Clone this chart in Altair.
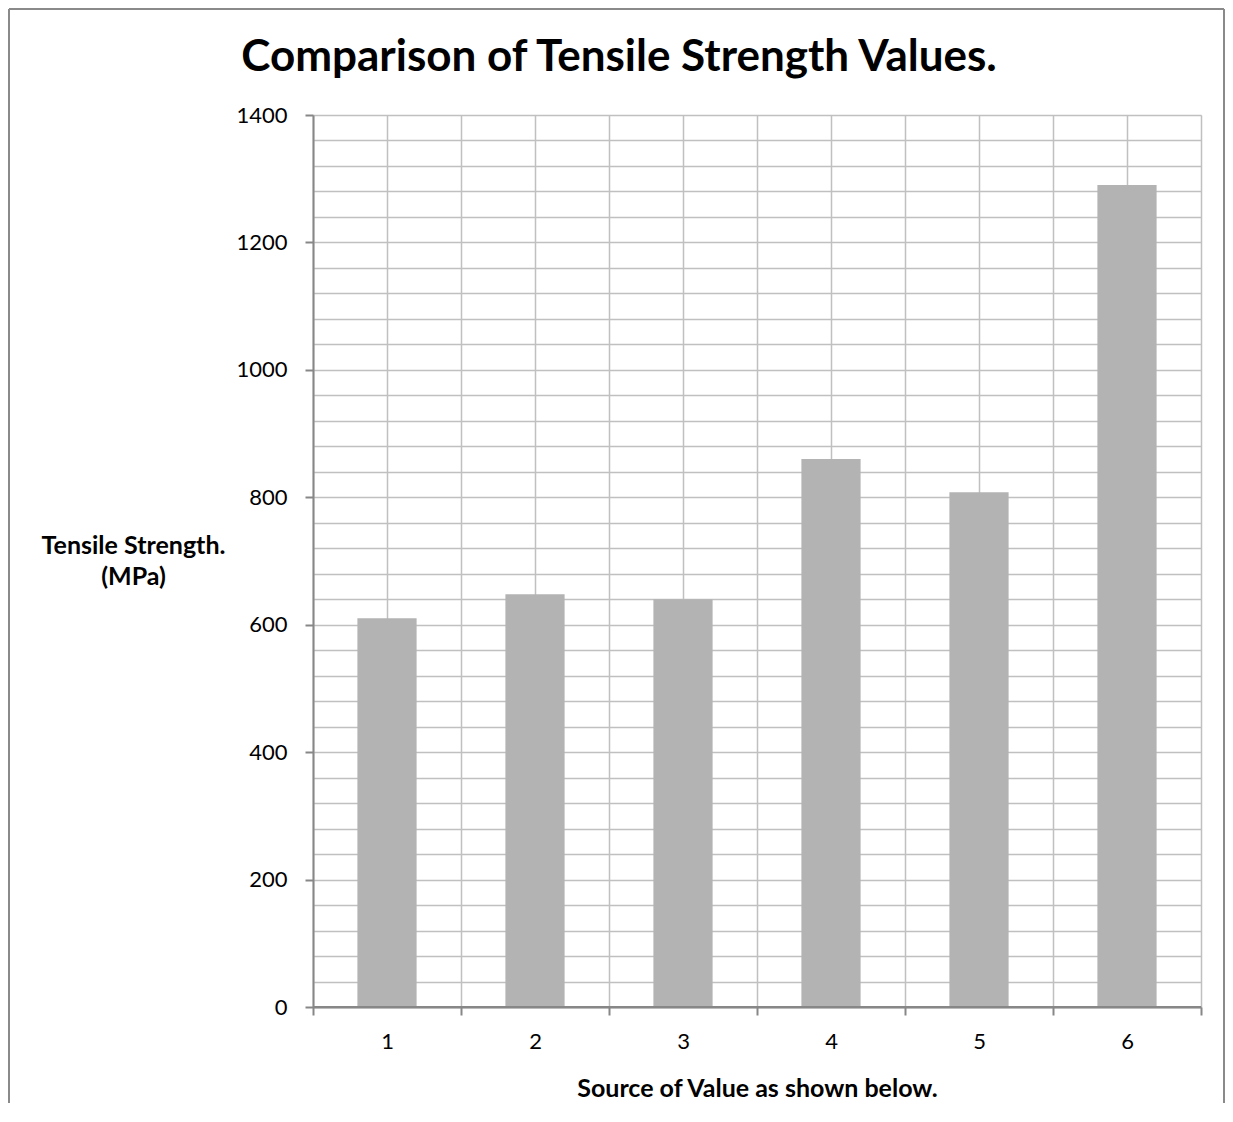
import altair as alt
import pandas as pd

# ---- data ----
sources = [1, 2, 3, 4, 5, 6]
tensile_mpa = [610, 648, 640, 860, 808, 1290]
y_grid_values = list(range(0, 1401, 40))
x_grid_values = [0.5, 1, 1.5, 2, 2.5, 3, 3.5, 4, 4.5, 5, 5.5, 6, 6.5]

title_text = "Comparison of Tensile Strength Values."
y_title = ["Tensile Strength.", "(MPa)"]
x_title = "Source of Value as shown below."

df = pd.DataFrame({"src": sources, "value": tensile_mpa})
one = pd.DataFrame({"k": [0]})
title_df = pd.DataFrame({"t": [title_text]})

FONT = "Lato"
W, H = 888, 892
PAD_L, PAD_T, PAD_R, PAD_B = 305, 107, 24, 96
FRAME = "#8a8a8a"
AXIS = "#878787"
GRID = "#c0c0c0"

x_scale = alt.Scale(domain=[0.5, 6.5], nice=False, zero=False)
y_scale = alt.Scale(domain=[0, 1400], nice=False)

x_axis = alt.Axis(
    values=x_grid_values, tickCount=50,
    grid=True, gridColor=GRID, gridWidth=1.5,
    domainColor=AXIS, domainWidth=2,
    tickColor=AXIS, tickWidth=2, tickSize=8,
    tickOpacity={"condition": {"test": "datum.value % 1 !== 0", "value": 1}, "value": 0},
    labelExpr="datum.value % 1 === 0 ? format(datum.value, 'd') : ''",
    labelFont=FONT, labelFontSize=22, labelColor="#000000",
    labelBaseline="alphabetic", labelPadding=33, labelOverlap=False,
    title=x_title, titleFont=FONT, titleFontSize=25, titleFontWeight="bold",
    titleColor="#000000", titleX=W / 2, titleY=89, titleBaseline="alphabetic",
    titleAlign="center",
)
y_axis = alt.Axis(
    values=y_grid_values, tickCount=50,
    grid=True, gridColor=GRID, gridWidth=1.5,
    domainColor=AXIS, domainWidth=2,
    tickColor=AXIS, tickWidth=2, tickSize=8,
    tickOpacity={"condition": {"test": "datum.value % 200 === 0", "value": 1}, "value": 0},
    labelExpr="datum.value % 200 === 0 ? format(datum.value, 'd') : ''",
    labelFont=FONT, labelFontSize=22, labelColor="#000000",
    labelPadding=18, labelOverlap=False,
    title=y_title, titleFont=FONT, titleFontSize=25, titleFontWeight="bold",
    titleColor="#000000", titleAngle=0, titleAlign="center",
    titleX=-180, titleY=438, titleBaseline="alphabetic", titleLineHeight=31,
)

bars = (
    alt.Chart(df)
    .transform_calculate(lo="datum.src - 0.2", hi="datum.src + 0.2")
    .mark_rect(color="#b3b3b3")
    .encode(
        x=alt.X("lo:Q", scale=x_scale, axis=x_axis),
        x2="hi:Q",
        y=alt.Y("value:Q", scale=y_scale, axis=y_axis),
        y2=alt.datum(0),
    )
)

base_line = alt.Chart(one).mark_rule(color=AXIS, strokeWidth=2).encode(
    x=alt.datum(0.5, scale=x_scale), x2=alt.datum(6.5), y=alt.datum(0, scale=y_scale)
)

frame_left = alt.Chart(one).mark_rule(color=FRAME, strokeWidth=2).encode(
    x=alt.value(-PAD_L + 1), y=alt.value(-PAD_T + 1), y2=alt.value(H + PAD_B)
)
frame_top = alt.Chart(one).mark_rule(color=FRAME, strokeWidth=2).encode(
    x=alt.value(-PAD_L + 1), x2=alt.value(W + PAD_R - 1), y=alt.value(-PAD_T + 1)
)
frame_right = alt.Chart(one).mark_rule(color=FRAME, strokeWidth=2).encode(
    x=alt.value(W + PAD_R - 1), y=alt.value(-PAD_T + 1), y2=alt.value(H + PAD_B)
)

title = alt.Chart(title_df).mark_text(
    font=FONT, fontSize=44, fontWeight="bold", color="#000000",
    align="center", baseline="alphabetic",
).encode(text="t:N", x=alt.value(306), y=alt.value(-44))

chart = (
    alt.layer(bars, base_line, frame_left, frame_top, frame_right, title)
    .properties(
        width=W, height=H,
        autosize=alt.AutoSizeParams(type="none"),
        padding={"left": PAD_L, "top": PAD_T, "right": PAD_R, "bottom": PAD_B},
    )
    .configure_view(stroke=None)
    .configure(background="white")
)

chart.save("out.html", embed_options={"renderer": "svg", "actions": False})
